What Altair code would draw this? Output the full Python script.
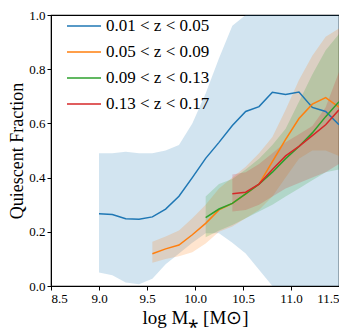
import altair as alt
import pandas as pd

# stellar-mass grid (log M*)
logm = [9.0, 9.139, 9.278, 9.417, 9.556, 9.694, 9.833, 9.972, 10.111, 10.25,
        10.389, 10.528, 10.667, 10.806, 10.944, 11.083, 11.222, 11.361, 11.5]

labels = ["0.01 < z < 0.05", "0.05 < z < 0.09", "0.09 < z < 0.13", "0.13 < z < 0.17"]
colors = ["#1f77b4", "#ff7f0e", "#2ca02c", "#d62728"]
start_idx = [0, 4, 8, 10]

blue_frac = [0.267, 0.264, 0.248, 0.246, 0.255, 0.284, 0.331, 0.400, 0.471, 0.530,
             0.592, 0.644, 0.662, 0.715, 0.707, 0.716, 0.659, 0.644, 0.595]
blue_lo = [0.050, 0.040, 0.013, 0.006, 0.027, 0.080, 0.120, 0.160, 0.195, 0.195,
           0.160, 0.120, 0.060, 0.0, 0.0, 0.0, 0.0, 0.0, 0.0]
blue_hi = [0.490, 0.490, 0.495, 0.490, 0.490, 0.500, 0.520, 0.600, 0.710, 0.840,
           0.960, 1.0, 1.0, 1.0, 1.0, 1.0, 1.0, 1.0, 1.0]

orange_frac = [0.119, 0.137, 0.151, 0.189, 0.231, 0.281, 0.305, 0.340, 0.376, 0.459,
               0.541, 0.618, 0.671, 0.695, 0.660]
orange_lo = [0.086, 0.100, 0.110, 0.125, 0.157, 0.200, 0.220, 0.250, 0.280, 0.330,
             0.400, 0.470, 0.500, 0.500, 0.480]
orange_hi = [0.163, 0.183, 0.205, 0.250, 0.300, 0.360, 0.400, 0.440, 0.490, 0.550,
             0.650, 0.760, 0.850, 0.920, 0.950]

green_frac = [0.252, 0.284, 0.305, 0.340, 0.376, 0.420, 0.470, 0.515, 0.565, 0.625, 0.680]
green_lo = [0.180, 0.205, 0.225, 0.250, 0.275, 0.300, 0.330, 0.360, 0.390, 0.420, 0.430]
green_hi = [0.330, 0.376, 0.395, 0.430, 0.470, 0.520, 0.580, 0.680, 0.780, 0.870, 0.930]

red_frac = [0.340, 0.346, 0.376, 0.430, 0.480, 0.515, 0.555, 0.595, 0.650]
red_lo = [0.275, 0.280, 0.300, 0.330, 0.360, 0.380, 0.400, 0.420, 0.450]
red_hi = [0.411, 0.420, 0.450, 0.490, 0.530, 0.560, 0.590, 0.660, 0.790]

x_ticks = [8.5, 9.0, 9.5, 10.0, 10.5, 11.0, 11.5]
y_ticks = [0.0, 0.2, 0.4, 0.6, 0.8, 1.0]

series = [
    (labels[0], start_idx[0], blue_frac, blue_lo, blue_hi),
    (labels[1], start_idx[1], orange_frac, orange_lo, orange_hi),
    (labels[2], start_idx[2], green_frac, green_lo, green_hi),
    (labels[3], start_idx[3], red_frac, red_lo, red_hi),
]
rows = []
for k, (lab, s, fr, lo, hi) in enumerate(series):
    for i in range(len(fr)):
        rows.append({"m": logm[s + i], "frac": fr[i], "lo": lo[i], "hi": hi[i],
                     "z": lab, "k": k})
df = pd.DataFrame(rows)

FONT = "Liberation Serif"

xenc = alt.X("m:Q", scale=alt.Scale(domain=[8.5, 11.5], nice=False, zero=False),
             axis=alt.Axis(values=x_ticks, format=".1f", title="log  M⁎ [M⊙]"))
yscale = alt.Scale(domain=[0, 1], nice=False)
yaxis = alt.Axis(values=y_ticks, format=".1f", title="Quiescent Fraction")
cscale = alt.Scale(domain=labels, range=colors)
legend = alt.Legend(title=None, orient="none", legendX=15, legendY=-7,
                    symbolType="stroke", symbolSize=1156, symbolOpacity=1,
                    symbolStrokeWidth=1.5, labelFont=FONT,
                    labelFontSize=17, labelOffset=4, rowPadding=-10.5,
                    padding=0, labelColor="black")
cenc = alt.Color("z:N", scale=cscale, sort=labels, legend=legend)

bands = alt.Chart(df).mark_area(opacity=0.2).encode(
    x=xenc,
    y=alt.Y("lo:Q", scale=yscale, axis=yaxis),
    y2="hi:Q",
    color=cenc,
)

lines = alt.Chart(df).mark_line(strokeWidth=1.5).encode(
    x=xenc,
    y=alt.Y("frac:Q", scale=yscale, axis=yaxis),
    color=cenc,
)

chart = alt.layer(bands, lines).properties(
    width=288, height=271,
    autosize=alt.AutoSizeParams(type="none"),
    padding={"left": 43, "top": 7, "right": 0, "bottom": 48},
).configure_view(
    stroke="black", strokeWidth=1.2
).configure_axis(
    domainColor="black", tickColor="black", tickSize=4, tickWidth=1,
    labelFont=FONT, labelFontSize=13, labelColor="black", labelPadding=2,
    titleFont=FONT, titleFontSize=19, titleFontWeight="normal", titleColor="black",
    grid=False,
).configure_axisX(titlePadding=3).configure_axisY(titlePadding=2, titleFontSize=18)

chart.save("out.html", embed_options={"renderer": "svg", "actions": False})
